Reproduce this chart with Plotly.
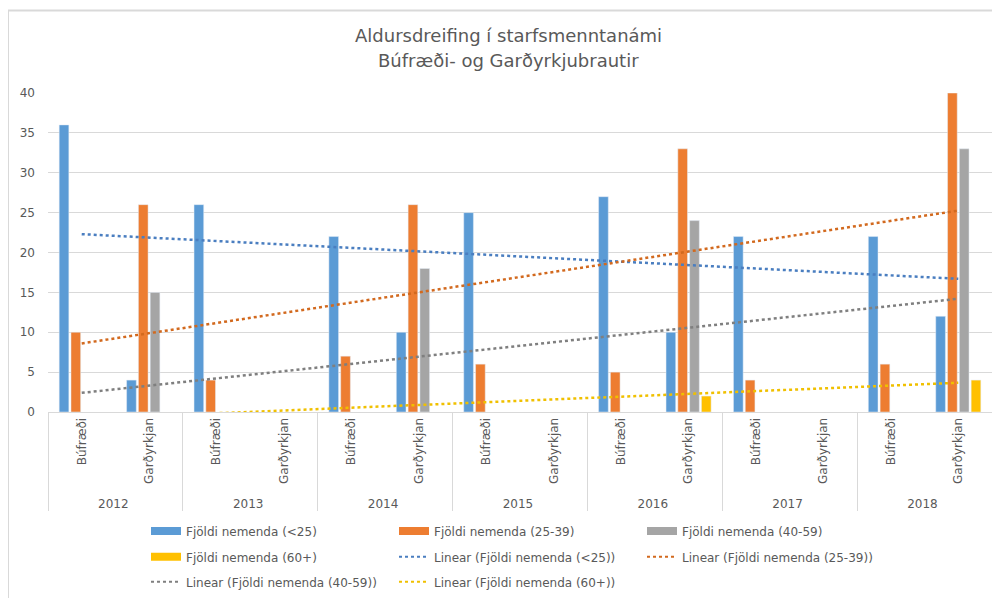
import plotly.graph_objects as go

years = ["2012", "2013", "2014", "2015", "2016", "2017", "2018"]
programs = ["Búfræði", "Garðyrkjan"]

series_names = ["Fjöldi nemenda (<25)", "Fjöldi nemenda (25-39)",
                "Fjöldi nemenda (40-59)", "Fjöldi nemenda (60+)"]
# values per category (Búfræði 2012, Garðyrkjan 2012, Búfræði 2013, ...)
under25 = [36, 4, 26, None, 22, 10, 25, None, 27, 10, 22, None, 22, 12]
age25_39 = [10, 26, 4, None, 7, 26, 6, None, 5, 33, 4, None, 6, 40]
age40_59 = [None, 15, None, None, None, 18, None, None, None, 24, None, None, None, 33]
age60p = [None, None, None, None, None, None, None, None, None, 2, None, None, None, 4]

# linear trend lines: value at first and last category
trend_start = [22.3, 8.6, 2.4, -0.85]
trend_end = [16.7, 25.25, 14.2, 3.66]

title_lines = ["Aldursdreifing í starfsmenntanámi", "Búfræði- og Garðyrkjubrautir"]

colors = ["#5B9BD5", "#ED7D31", "#A5A5A5", "#FFC000"]
trend_colors = ["#4A7EC0", "#D2691E", "#7F7F7F", "#F0C000"]

xcat = [[y for y in years for p in programs], [p for y in years for p in programs]]
xends = [[years[0], years[-1]], [programs[0], programs[-1]]]

fig = go.Figure()
all_vals = [under25, age25_39, age40_59, age60p]
for name, vals, c in zip(series_names, all_vals, colors):
    fig.add_trace(go.Bar(x=xcat, y=vals, name=name, marker_color=c,
                         showlegend=False))

for i, (s, e, c) in enumerate(zip(trend_start, trend_end, trend_colors)):
    fig.add_trace(go.Scatter(x=xends, y=[s, e], mode="lines",
                             line=dict(color=c, width=2.5, dash="dot"),
                             showlegend=False, hoverinfo="skip"))

# legend entries
legend_items = [(series_names[i], colors[i], "solid", 8) for i in range(4)] + \
    [("Linear (" + series_names[i] + ")", trend_colors[i], "dot", 2) for i in range(4)]
legend_ids = ["legend", "legend", "legend", "legend2", "legend2", "legend2", "legend3", "legend3"]
for (name, c, dash, w), lid in zip(legend_items, legend_ids):
    fig.add_trace(go.Scatter(x=[None], y=[None], mode="lines", name=name,
                             line=dict(color=c, width=w, dash=dash),
                             legend=lid, showlegend=True))

font_fam = "DejaVu Sans, sans-serif"
txt = "#595959"
leg_common = dict(orientation="h", xanchor="left", yanchor="middle",
                  font=dict(family=font_fam, size=12, color=txt),
                  entrywidth=203, entrywidthmode="pixels", bgcolor="rgba(0,0,0,0)",
                  itemclick=False, itemdoubleclick=False)

# figure is offset by the page's 8px body margin
W, H = 992, 590
L, R, T, B = 40, 8, 84.7, 186
ph = H - T - B
pw = W - L - R


def py(yfig):
    return (H - B - yfig) / ph


def px(xfig):
    return (xfig - L) / pw


annotations = [
    dict(text=title_lines[0], x=px(500), y=py(27), xref="paper", yref="paper",
         showarrow=False, xanchor="center", yanchor="middle",
         font=dict(family=font_fam, size=18, color=txt)),
    dict(text=title_lines[1], x=px(500), y=py(52), xref="paper", yref="paper",
         showarrow=False, xanchor="center", yanchor="middle",
         font=dict(family=font_fam, size=18, color=txt)),
]

fig.update_layout(
    width=W, height=H,
    margin=dict(l=L, r=R, t=T, b=B, autoexpand=False),
    paper_bgcolor="white", plot_bgcolor="white",
    barmode="group", bargap=0.3, bargroupgap=0.18,
    font=dict(family=font_fam, color=txt),
    annotations=annotations,
    legend=dict(x=px(138), y=py(523), **leg_common),
    legend2=dict(x=px(138), y=py(549), **leg_common),
    legend3=dict(x=px(138), y=py(574), **leg_common),
    shapes=[
        dict(type="line", xref="paper", yref="paper", x0=px(0), x1=px(W + 5), y0=py(2), y1=py(2),
             line=dict(color="#d9d9d9", width=2)),
        dict(type="line", xref="paper", yref="paper", x0=px(0), x1=px(0), y0=py(2), y1=py(H + 5),
             line=dict(color="#d9d9d9", width=2)),
    ],
)

fig.update_yaxes(range=[0, 40], dtick=5, showgrid=True, gridcolor="#d9d9d9", gridwidth=1,
                 zeroline=False, showline=False, ticklabelstandoff=12, automargin=False,
                 tickfont=dict(family=font_fam, size=12, color=txt), fixedrange=True)
fig.update_xaxes(type="multicategory", tickangle=-90, showgrid=False, automargin=False,
                 showline=True, linecolor="#d9d9d9", linewidth=1,
                 showdividers=True, dividercolor="#d9d9d9", dividerwidth=1,
                 tickfont=dict(family=font_fam, size=12, color=txt), fixedrange=True)

fig.write_html("out.html")
